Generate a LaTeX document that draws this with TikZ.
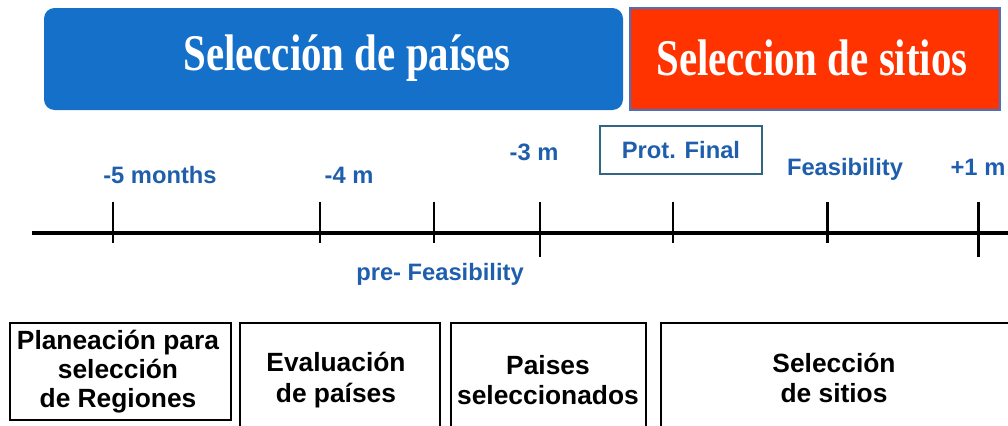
\documentclass[tikz,border=0pt]{standalone}
\usepackage{fontspec}
\setmainfont{Liberation Serif}
\setsansfont{Liberation Sans}
\definecolor{paisblue}{RGB}{20,112,200}
\definecolor{sitiored}{RGB}{255,51,0}
\definecolor{edgeblue}{RGB}{68,114,196}
\definecolor{labelblue}{RGB}{30,94,172}
\definecolor{protedge}{RGB}{49,102,128}
\newcommand{\tallt}[1]{\scalebox{0.97}[1.22]{#1}}

\begin{document}
\begin{tikzpicture}[x=0.02cm, y=-0.02cm,
  title/.style={text=white, font=\bfseries\fontsize{24}{28}\selectfont},
  tlabel/.style={text=labelblue, anchor=base,
    font=\sffamily\bfseries\fontsize{13.5}{16}\selectfont},
  phasebox/.style={draw=black, line width=1pt},
  phasetext/.style={align=center,
    font=\sffamily\bfseries\fontsize{15}{17.5}\selectfont}]
  \useasboundingbox (0,0) rectangle (1008,426);
  % phases on top
  \fill[paisblue, rounded corners=6pt] (44,8) rectangle (623,110);
  \filldraw[fill=sitiored, draw=edgeblue, line width=0.8pt] (630,8) rectangle (1000,110);
  \node[title] (paises) at (347,58) {\tallt{Selección de países}};
  \node[title] (sitios) at (812,58) {\tallt{Seleccion de sitios}};
  % timeline
  \coordinate (start) at (32,233);
  \coordinate (end) at (1015,233);
  \draw[line width=2.3pt] (start) -- (end);
  \foreach \x/\b in {113/243, 320/243, 434/243, 540/257, 673/243, 827/243, 978/257}
    \draw[line width=1.7pt] (\x,202) -- (\x,\b);
  % labels
  \node[tlabel] (m5) at (160,183) {-5 months};
  \node[tlabel] (m4) at (349,183) {-4 m};
  \node[tlabel] (m3) at (534,160) {-3 m};
  \node[tlabel, anchor=center, draw=protedge, line width=1pt,
    minimum width=3.24cm, minimum height=0.96cm] (prot) at (681,150) {Prot. Final};
  \node[tlabel] (feas) at (845,175) {Feasibility};
  \node[tlabel] (p1) at (978,175) {+1 m};
  \node[tlabel] (prefeas) at (440,280) {pre- Feasibility};
  % phase boxes below
  \draw[phasebox, line width=1.3pt] (10,323) rectangle (231,420);
  \draw[phasebox] (240,323) rectangle (440,440);
  \draw[phasebox] (451,323) rectangle (646,440);
  \draw[phasebox] (661,323) rectangle (1020,440);
  \node[phasetext, font=\sffamily\bfseries\fontsize{15}{16.5}\selectfont]
    (plan) at (118,372) {Planeación para\\selección\\de Regiones};
  \node[phasetext] (eval) at (336,380) {Evaluación\\de países};
  \node[phasetext] (selec) at (548,380) {Paises\\seleccionados};
  \node[phasetext] (sitio) at (834,378) {Selección\\de sitios};
\end{tikzpicture}
\end{document}
